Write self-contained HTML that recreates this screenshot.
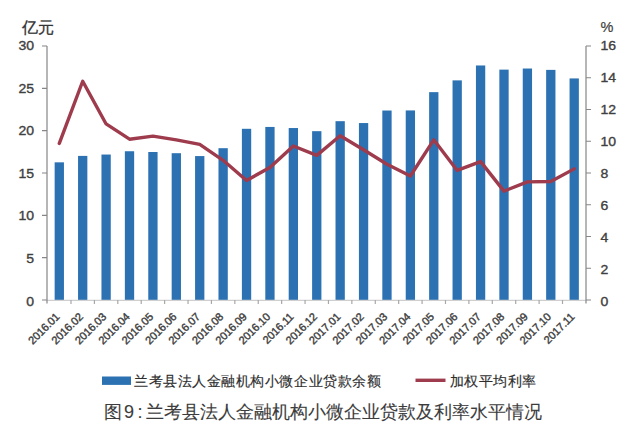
<!DOCTYPE html>
<html><head><meta charset="utf-8"><style>
html,body{margin:0;padding:0;background:#fff;width:640px;height:433px;overflow:hidden}
svg{display:block}
text{font-family:"Liberation Sans",sans-serif;fill:#404040}
.n{font-size:13px;stroke:#404040;stroke-width:0.35px}
.xl{font-size:11px;stroke:#404040;stroke-width:0.4px;letter-spacing:-0.1px}
.u{font-size:16px;fill:#333;stroke:#333;stroke-width:0.3px}
.lg{font-size:14.4px;fill:#2e2e2e;stroke:#2e2e2e;stroke-width:0.15px;letter-spacing:0.55px}
.cap{font-size:18px;fill:#3c3c3c;stroke:#3c3c3c;stroke-width:0.1px}
</style></head><body>
<svg width="640" height="433" viewBox="0 0 640 433">
<text class="u" x="21.5" y="32.6">亿元</text>
<text class="n" x="600.5" y="32" style="font-size:14.5px;stroke-width:0.2px">%</text>
<rect x="54.65" y="162.33" width="9.3" height="137.67" fill="#2C72B3"/>
<rect x="78.05" y="155.90" width="9.3" height="144.10" fill="#2C72B3"/>
<rect x="101.46" y="154.54" width="9.3" height="145.46" fill="#2C72B3"/>
<rect x="124.86" y="151.24" width="9.3" height="148.76" fill="#2C72B3"/>
<rect x="148.27" y="152.00" width="9.3" height="148.00" fill="#2C72B3"/>
<rect x="171.67" y="153.19" width="9.3" height="146.81" fill="#2C72B3"/>
<rect x="195.08" y="156.07" width="9.3" height="143.93" fill="#2C72B3"/>
<rect x="218.48" y="148.19" width="9.3" height="151.81" fill="#2C72B3"/>
<rect x="241.89" y="128.80" width="9.3" height="171.20" fill="#2C72B3"/>
<rect x="265.30" y="126.94" width="9.3" height="173.06" fill="#2C72B3"/>
<rect x="288.70" y="128.04" width="9.3" height="171.96" fill="#2C72B3"/>
<rect x="312.11" y="131.17" width="9.3" height="168.83" fill="#2C72B3"/>
<rect x="335.51" y="121.18" width="9.3" height="178.82" fill="#2C72B3"/>
<rect x="358.92" y="123.05" width="9.3" height="176.95" fill="#2C72B3"/>
<rect x="382.32" y="110.52" width="9.3" height="189.48" fill="#2C72B3"/>
<rect x="405.73" y="110.43" width="9.3" height="189.57" fill="#2C72B3"/>
<rect x="429.13" y="92.14" width="9.3" height="207.86" fill="#2C72B3"/>
<rect x="452.54" y="80.37" width="9.3" height="219.63" fill="#2C72B3"/>
<rect x="475.94" y="65.47" width="9.3" height="234.53" fill="#2C72B3"/>
<rect x="499.35" y="69.62" width="9.3" height="230.38" fill="#2C72B3"/>
<rect x="522.75" y="68.52" width="9.3" height="231.48" fill="#2C72B3"/>
<rect x="546.15" y="69.88" width="9.3" height="230.12" fill="#2C72B3"/>
<rect x="569.56" y="78.43" width="9.3" height="221.57" fill="#2C72B3"/>
<path d="M47.0 300.3 H586.0" stroke="#cfcfcf" stroke-width="1.2" fill="none"/>
<path d="M47.0 46.0 V303.5 M586.0 46.0 V303.5" stroke="#868686" stroke-width="1.2" fill="none"/>
<path d="M42.0 300.00 H47.0 M42.0 257.67 H47.0 M42.0 215.33 H47.0 M42.0 173.00 H47.0 M42.0 130.67 H47.0 M42.0 88.33 H47.0 M42.0 46.00 H47.0 M586.0 300.00 H591.0 M586.0 268.25 H591.0 M586.0 236.50 H591.0 M586.0 204.75 H591.0 M586.0 173.00 H591.0 M586.0 141.25 H591.0 M586.0 109.50 H591.0 M586.0 77.75 H591.0 M586.0 46.00 H591.0" stroke="#868686" stroke-width="1.2" fill="none"/>
<path d="M71.00 300.0 V304.0 M94.41 300.0 V304.0 M117.81 300.0 V304.0 M141.22 300.0 V304.0 M164.62 300.0 V304.0 M188.03 300.0 V304.0 M211.43 300.0 V304.0 M234.84 300.0 V304.0 M258.24 300.0 V304.0 M281.65 300.0 V304.0 M305.05 300.0 V304.0 M328.46 300.0 V304.0 M351.86 300.0 V304.0 M375.27 300.0 V304.0 M398.67 300.0 V304.0 M422.08 300.0 V304.0 M445.48 300.0 V304.0 M468.89 300.0 V304.0 M492.29 300.0 V304.0 M515.70 300.0 V304.0 M539.10 300.0 V304.0 M562.51 300.0 V304.0" stroke="#a8a8a8" stroke-width="1.2" fill="none"/>
<polyline points="59.30,143.47 82.70,81.24 106.11,123.95 129.51,139.19 152.92,136.17 176.32,139.82 199.73,144.42 223.13,160.30 246.54,180.46 269.94,167.44 293.35,146.01 316.76,155.38 340.16,135.69 363.56,149.82 386.97,164.27 410.38,176.02 433.78,139.82 457.19,170.46 480.59,161.57 504.00,191.10 527.40,181.89 550.80,181.57 574.21,168.87" fill="none" stroke="#9E3B4C" stroke-width="3.4" stroke-linejoin="round" stroke-linecap="round"/>
<text class="n" transform="translate(34.0,305.50) scale(1.08,1)" text-anchor="end">0</text>
<text class="n" transform="translate(34.0,262.97) scale(1.08,1)" text-anchor="end">5</text>
<text class="n" transform="translate(34.0,220.43) scale(1.08,1)" text-anchor="end">10</text>
<text class="n" transform="translate(34.0,177.90) scale(1.08,1)" text-anchor="end">15</text>
<text class="n" transform="translate(34.0,135.37) scale(1.08,1)" text-anchor="end">20</text>
<text class="n" transform="translate(34.0,92.83) scale(1.08,1)" text-anchor="end">25</text>
<text class="n" transform="translate(34.0,50.30) scale(1.08,1)" text-anchor="end">30</text>
<text class="n" transform="translate(600.5,305.50) scale(1.08,1)">0</text>
<text class="n" transform="translate(600.5,273.60) scale(1.08,1)">2</text>
<text class="n" transform="translate(600.5,241.70) scale(1.08,1)">4</text>
<text class="n" transform="translate(600.5,209.80) scale(1.08,1)">6</text>
<text class="n" transform="translate(600.5,177.90) scale(1.08,1)">8</text>
<text class="n" transform="translate(600.5,146.00) scale(1.08,1)">10</text>
<text class="n" transform="translate(600.5,114.10) scale(1.08,1)">12</text>
<text class="n" transform="translate(600.5,82.20) scale(1.08,1)">14</text>
<text class="n" transform="translate(600.5,50.30) scale(1.08,1)">16</text>
<text class="xl" transform="translate(60.30,317.5) rotate(-45)" text-anchor="end">2016.01</text>
<text class="xl" transform="translate(83.70,317.5) rotate(-45)" text-anchor="end">2016.02</text>
<text class="xl" transform="translate(107.11,317.5) rotate(-45)" text-anchor="end">2016.03</text>
<text class="xl" transform="translate(130.51,317.5) rotate(-45)" text-anchor="end">2016.04</text>
<text class="xl" transform="translate(153.92,317.5) rotate(-45)" text-anchor="end">2016.05</text>
<text class="xl" transform="translate(177.32,317.5) rotate(-45)" text-anchor="end">2016.06</text>
<text class="xl" transform="translate(200.73,317.5) rotate(-45)" text-anchor="end">2016.07</text>
<text class="xl" transform="translate(224.13,317.5) rotate(-45)" text-anchor="end">2016.08</text>
<text class="xl" transform="translate(247.54,317.5) rotate(-45)" text-anchor="end">2016.09</text>
<text class="xl" transform="translate(270.94,317.5) rotate(-45)" text-anchor="end">2016.10</text>
<text class="xl" transform="translate(294.35,317.5) rotate(-45)" text-anchor="end">2016.11</text>
<text class="xl" transform="translate(317.76,317.5) rotate(-45)" text-anchor="end">2016.12</text>
<text class="xl" transform="translate(341.16,317.5) rotate(-45)" text-anchor="end">2017.01</text>
<text class="xl" transform="translate(364.56,317.5) rotate(-45)" text-anchor="end">2017.02</text>
<text class="xl" transform="translate(387.97,317.5) rotate(-45)" text-anchor="end">2017.03</text>
<text class="xl" transform="translate(411.38,317.5) rotate(-45)" text-anchor="end">2017.04</text>
<text class="xl" transform="translate(434.78,317.5) rotate(-45)" text-anchor="end">2017.05</text>
<text class="xl" transform="translate(458.19,317.5) rotate(-45)" text-anchor="end">2017.06</text>
<text class="xl" transform="translate(481.59,317.5) rotate(-45)" text-anchor="end">2017.07</text>
<text class="xl" transform="translate(505.00,317.5) rotate(-45)" text-anchor="end">2017.08</text>
<text class="xl" transform="translate(528.40,317.5) rotate(-45)" text-anchor="end">2017.09</text>
<text class="xl" transform="translate(551.80,317.5) rotate(-45)" text-anchor="end">2017.10</text>
<text class="xl" transform="translate(575.21,317.5) rotate(-45)" text-anchor="end">2017.11</text>
<rect x="102" y="376.5" width="29" height="8.4" fill="#2C72B3"/>
<text class="lg" x="134" y="386">兰考县法人金融机构小微企业贷款余额</text>
<path d="M415.5 380.3 H445.5" stroke="#9E3B4C" stroke-width="3.4"/>
<text class="lg" x="449.5" y="386">加权平均利率</text>
<text class="cap" y="418"><tspan x="104">图</tspan><tspan x="124">9</tspan><tspan x="137.5">:</tspan><tspan x="146">兰考县法人金融机构小微企业贷款及利率水平情况</tspan></text>
</svg>
</body></html>
